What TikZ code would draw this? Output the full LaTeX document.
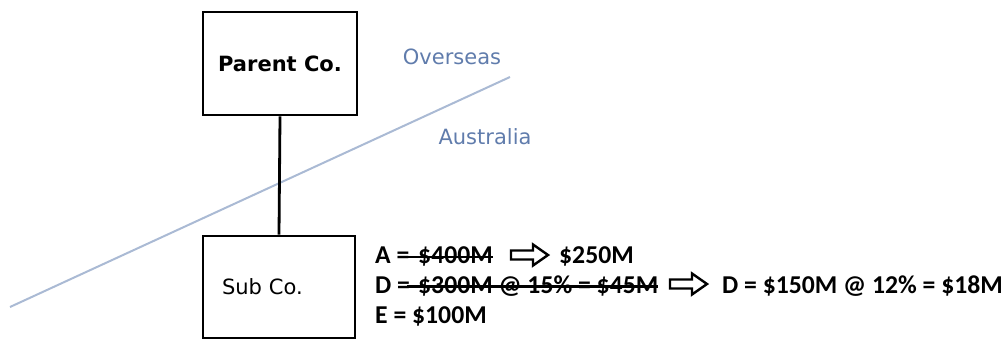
\documentclass[tikz,border=0pt]{standalone}
\usepackage{fontspec}
\setmainfont{Carlito}
\newfontfamily\labelfont{DejaVu Sans}
\usetikzlibrary{calc}

\definecolor{regionblue}{RGB}{96,124,172}
\definecolor{borderline}{RGB}{170,186,212}

\tikzset{
  company/.style={draw=black, line width=2.8bp, fill=white,
    font=\labelfont\fontsize{21bp}{25bp}\selectfont, inner sep=0pt},
  region/.style={text=regionblue, font=\labelfont\fontsize{21bp}{25bp}\selectfont,
    inner sep=0pt},
  figure/.style={anchor=base west, inner sep=0pt,
    font=\bfseries\fontsize{25.7bp}{30bp}\selectfont},
  strike/.style={line width=2.4bp, black},
  % outlined block arrow, drawn from its left end
  pics/hollowarrow/.style={code={
    \draw[black, line width=2.4bp, line join=miter, fill=white]
      (0,-4.5) -- (22,-4.5) -- (22,-10.5) -- (37,0) -- (22,10.5)
      -- (22,4.5) -- (0,4.5) -- cycle;
  }},
}

\begin{document}
\begin{tikzpicture}[x=1bp, y=-1bp]
  \useasboundingbox (0,0) rectangle (1007,340);

  % border between the two jurisdictions
  \coordinate (bstart) at (10,307);
  \coordinate (bend) at (510,77);
  \draw[borderline, line width=2bp] (bstart) -- (bend);

  \node[region] (overseas) at (452,57) {Overseas};
  \node[region] (australia) at (485,137) {Australia};

  % companies
  \node[company, minimum width=154bp, minimum height=103bp] (parent) at (280,63.5)
    {\bfseries Parent Co.};
  \node[company, text width=114bp, inner xsep=19bp, align=left,
        minimum height=102bp] (sub) at (279,287) {Sub Co.};
  \draw[black, line width=2.8bp] (parent.south) -- (sub.north);

  % row A
  \node[figure] (a1) at (375,263) {A =};
  \node[figure] (a2) at (418,263) {\$400M};
  \draw[strike] ($(a2.west)+(-11,1)$) -- ($(a2.east)+(0,1)$);
  \pic at (511,255) {hollowarrow};
  \node[figure] (a4) at (559,263) {\$250M};

  % row D
  \node[figure] (d1) at (375,293) {D =};
  \node[figure] (d2) at (418,293) {\$300M @ 15\% = \$45M};
  \draw[strike] ($(d2.west)+(-11,1)$) -- ($(d2.east)+(0,1)$);
  \pic at (670,284) {hollowarrow};
  \node[figure] (d4) at (722,293) {D = \$150M @ 12\% = \$18M};

  % row E
  \node[figure] (e1) at (375,323) {E = \$100M};
\end{tikzpicture}
\end{document}
